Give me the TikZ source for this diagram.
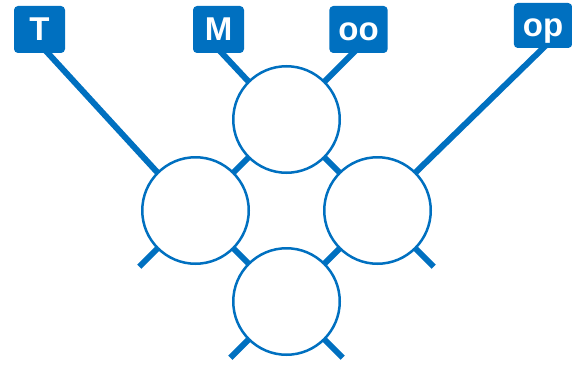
\documentclass[tikz,border=0pt]{standalone}
\usepackage{fontspec}
\setmainfont{Liberation Sans}
\usetikzlibrary{backgrounds,calc}
\definecolor{qblue}{RGB}{0,112,192}
\begin{document}
\begin{tikzpicture}[x=1pt,y=1pt,
  tensor/.style={circle,draw=qblue,fill=white,line width=2.5pt,minimum size=106.5pt,inner sep=0pt},
  tag/.style={rectangle,rounded corners=4pt,fill=qblue,text=white,font=\bfseries\fontsize{33}{36}\selectfont,
     minimum width=51pt,minimum height=47pt,inner xsep=9pt,inner ysep=0pt,text height=23pt,text depth=0pt},
  wire/.style={draw=qblue,line width=6pt,shorten <=-4pt,shorten >=-4pt},
  stub/.style={draw=qblue,line width=6pt,shorten <=-4pt}]
\useasboundingbox (0,0) rectangle (572,365);
\node[tensor] (U) at (286.5,245.5) {};
\node[tensor] (L) at (195.5,154.5) {};
\node[tensor] (R) at (377.5,154.5) {};
\node[tensor] (B) at (286.5,63.5) {};
\node[tag] (T) at (39.5,335.5) {T};
\node[tag] (M) at (218.5,335.5) {M};
\node[tag] (oo) at (358.5,335.5) {oo};
\node[tag,minimum height=45pt] (op) at (543,339.5) {op};
\coordinate (sL) at ($(L.225)+(225:25)$);
\coordinate (sR) at ($(R.315)+(315:25)$);
\coordinate (sB1) at ($(B.225)+(225:25)$);
\coordinate (sB2) at ($(B.315)+(315:25)$);
\begin{scope}[on background layer]
\draw[wire] ($(T.south)+(8.5,0)$) -- (L.135);
\draw[wire] ($(M.south)+(3.5,0)$) -- (U.135);
\draw[wire] ($(oo.south)+(-5.5,0)$) -- (U.45);
\draw[wire] (op.south) -- (R.45);
\draw[wire] (U.225) -- (L.45);
\draw[wire] (U.315) -- (R.135);
\draw[wire] (L.315) -- (B.135);
\draw[wire] (R.225) -- (B.45);
\draw[stub] (L.225) -- (sL);
\draw[stub] (R.315) -- (sR);
\draw[stub] (B.225) -- (sB1);
\draw[stub] (B.315) -- (sB2);
\end{scope}
\end{tikzpicture}
\end{document}
